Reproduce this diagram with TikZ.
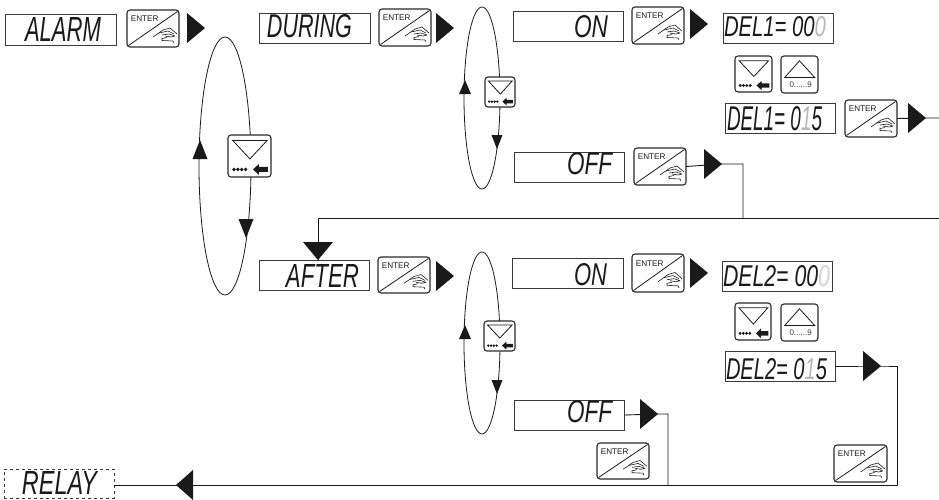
\documentclass[tikz,border=0pt]{standalone}
\usepackage{fontspec}
\usepackage{graphicx}
\setsansfont{Liberation Sans}
\newfontfamily\segfont{Liberation Sans}
\definecolor{ink}{HTML}{1A1A1A}
\definecolor{edge}{HTML}{3A3A3A}
\definecolor{keyedge}{HTML}{2A2A2A}
\definecolor{dimdigit}{HTML}{B8B8B8}
\tikzset{
  dispbox/.style={draw=edge,line width=1pt,fill=white,anchor=north west,inner sep=0pt,outer sep=0pt},
  keybox/.style={draw=keyedge,line width=1.1pt,fill=white,rounded corners=3pt,anchor=north west,inner sep=0pt,outer sep=0pt},
  segtext/.style={inner sep=0pt,outer sep=0pt,text=ink},
  wire/.style={draw=ink,line width=.9pt},
  loopline/.style={draw=ink,line width=.8pt},
  keyline/.style={draw=ink,line width=.8pt},
  handline/.style={draw=ink,line width=.6pt,line join=round},
}
% display box
\newcommand{\dispbox}[6][]{%
  \pgfmathsetmacro{\dw}{#5-#3}\pgfmathsetmacro{\dh}{#6-#4}%
  \node[dispbox,minimum width=\dw pt,minimum height=\dh pt,#1] (#2) at (#3,#4) {};}
% display text, scaled to fit its measured extent
\newcommand{\segtxt}[6]{%
  \pgfmathsetmacro{\tw}{#4-#2}\pgfmathsetmacro{\th}{#5-#3}%
  \pgfmathsetmacro{\tcx}{(#2+#4)/2}\pgfmathsetmacro{\tcy}{(#3+#5)/2}%
  \node[segtext] (#1) at (\tcx,\tcy) {\resizebox{\tw pt}{\th pt}{\segfont\itshape #6}};}
% ENTER key
\newcommand{\enterkey}[5]{%
  \pgfmathsetmacro{\kw}{#4-#2}\pgfmathsetmacro{\kh}{#5-#3}%
  \pgfmathsetmacro{\kx}{\kw/52}\pgfmathsetmacro{\ky}{\kh/37}%
  \node[keybox,minimum width=\kw pt,minimum height=\kh pt] (#1) at (#2,#3) {};
  \begin{scope}[shift={(#2,#3)},xscale=\kx,yscale=\ky]
    \draw[keyline] (1.5,35.5) -- (50.5,1.5);
    \node[anchor=west,inner sep=0pt,text=ink] (#1-label) at (3.6,9) {\sffamily\fontsize{8.2}{9}\selectfont ENTER};
    \draw[handline] (26,27) -- (36,20) -- (43,18) -- (50,24);
    \draw[handline] (32,23) -- (41,21) -- (47,24);
    \draw[handline] (35,25) -- (42,24) -- (48,26) -- (44,27) -- (38,26);
    \draw[handline] (40,27.5) -- (35,28.5) -- (35,30.5) -- (46,31) -- (47,33);
  \end{scope}}
% down key
\newcommand{\downkey}[5]{%
  \pgfmathsetmacro{\kw}{#4-#2}\pgfmathsetmacro{\kh}{#5-#3}%
  \pgfmathsetmacro{\kx}{\kw/100}\pgfmathsetmacro{\ky}{\kh/100}%
  \node[keybox,minimum width=\kw pt,minimum height=\kh pt] (#1) at (#2,#3) {};
  \begin{scope}[shift={(#2,#3)},xscale=\kx,yscale=\ky]
    \draw[keyline,line join=miter] (11,13) -- (91,13) -- (51,57) -- cycle;
    \foreach \dx in {14,23,32,41}{\fill[ink] (\dx,82) ellipse[x radius=4.4,y radius=4.4];}
    \fill[ink] (58,82) -- (72,69) -- (72,76) -- (93,76) -- (93,88) -- (72,88) -- (72,95) -- cycle;
  \end{scope}}
% up key
\newcommand{\upkey}[5]{%
  \pgfmathsetmacro{\kw}{#4-#2}\pgfmathsetmacro{\kh}{#5-#3}%
  \pgfmathsetmacro{\kx}{\kw/100}\pgfmathsetmacro{\ky}{\kh/100}%
  \node[keybox,minimum width=\kw pt,minimum height=\kh pt] (#1) at (#2,#3) {};
  \begin{scope}[shift={(#2,#3)},xscale=\kx,yscale=\ky]
    \draw[keyline,line join=miter] (10,58) -- (91,58) -- (50,13) -- cycle;
    \node[inner sep=0pt,text=edge] (#1-label) at (53,78) {\sffamily\fontsize{8}{9}\selectfont 0......9};
  \end{scope}}
% solid triangles, named at their tip
\newcommand{\triR}[3]{\coordinate (#1) at (#2,#3); \fill[ink] (#1) -- ++(-18,-15) -- ++(0,30) -- cycle;}
\newcommand{\triL}[3]{\coordinate (#1) at (#2,#3); \fill[ink] (#1) -- ++(17,-15) -- ++(0,30) -- cycle;}
\newcommand{\triD}[5]{\coordinate (#1) at (#2,#3); \fill[ink] (#1) -- ++(-#5,-#4) -- ++(2*#5,0) -- cycle;}
\newcommand{\triU}[5]{\coordinate (#1) at (#2,#3); \fill[ink] (#1) -- ++(-#5,#4) -- ++(2*#5,0) -- cycle;}
\begin{document}
\begin{tikzpicture}[x=1pt,y=-1pt]
\useasboundingbox (0,0) rectangle (939,499);
% selection loops
\draw[loopline] (225,166) ellipse[x radius=26,y radius=129];
\draw[loopline] (482,98) ellipse[x radius=18,y radius=91];
\draw[loopline] (482,343) ellipse[x radius=18,y radius=91];
\triU{lu1}{200}{140}{19}{7.5}
\triD{ld1}{246}{238}{19}{7.5}
\triU{lu2}{465}{80}{14}{6}
\triD{ld2}{497}{149}{14}{5.5}
\triU{lu3}{465}{325}{14}{6}
\triD{ld3}{497}{394}{14}{5.5}
% displays
\dispbox{alarm}{5.5}{14}{116}{45}
\segtxt{alarm-t}{25}{17}{101}{41}{ALARM}
\dispbox{during}{259}{13}{370}{43}
\segtxt{during-t}{267}{15}{352}{38}{DURING}
\dispbox{on1}{513}{11}{623}{41}
\segtxt{on1-t}{574}{16}{608}{38}{ON}
\dispbox{off1}{514}{152}{624}{182}
\segtxt{off1-t}{567}{153}{612}{175}{OFF}
\dispbox{del1a}{723}{13}{833}{43}
\segtxt{del1a-t}{724}{17}{826}{37}{DEL1= 00{\color{dimdigit}0}}
\dispbox{del1b}{725}{103}{835}{133}
\segtxt{del1b-t}{727}{107}{822}{131}{DEL1= 0{\color{dimdigit}1}5}
\dispbox{after}{259}{260}{369}{290}
\segtxt{after-t}{286}{264}{359}{287}{AFTER}
\dispbox{on2}{512}{258}{623}{288}
\segtxt{on2-t}{574}{264}{607}{286}{ON}
\dispbox{off2}{514}{400}{624}{430}
\segtxt{off2-t}{567}{401}{612}{423}{OFF}
\dispbox{del2a}{722}{261}{832}{291}
\segtxt{del2a-t}{723}{266}{830}{287}{DEL2= 00{\color{dimdigit!60}0}}
\dispbox{del2b}{725}{351}{835}{381}
\segtxt{del2b-t}{726}{359}{827}{380}{DEL2= 0{\color{dimdigit}1}5}
\dispbox[dashed,dash pattern=on 3pt off 3pt]{relay}{4}{469}{114}{498}
\segtxt{relay-t}{22}{471}{97}{494}{RELAY}
% keys
\enterkey{e1}{127}{10}{179}{47}
\enterkey{e2}{379}{9}{431}{46}
\enterkey{e3}{632}{7}{684}{44}
\enterkey{e4}{845}{100}{897}{137}
\enterkey{e5}{634}{148}{686}{185}
\enterkey{e6}{378}{257}{430}{293}
\enterkey{e7}{632}{254}{684}{292}
\enterkey{e8}{597}{443}{649}{479}
\enterkey{e9}{834}{445}{887}{482}
\downkey{d1}{228}{135}{271}{177}
\downkey{d2}{485}{77}{515}{107}
\downkey{d3}{484}{321}{515}{351}
\downkey{d4}{735}{56}{772}{92}
\upkey{u1}{781}{56}{818}{93}
\downkey{d5}{735}{303}{771}{340}
\upkey{u2}{781}{304}{818}{341}
% junctions and free ends
\coordinate (outa) at (939,118);
\coordinate (outb) at (939,218);
\coordinate (j1) at (743,218);
\coordinate (j2) at (668,485);
\coordinate (j3) at (897,485);
% connectors
\triR{t1}{205}{28}
\triR{t2}{454}{28}
\triR{t3}{708}{24}
\triR{t4}{926}{118}
\triR{t5}{722}{164}
\triR{t7}{454}{276}
\triR{t8}{708}{273}
\triR{t9}{881}{366}
\triR{t10}{658}{414}
\triL{t11}{176}{485}
\triD{t6}{318}{260}{18}{15}
\draw[wire] (e4.east) -- (t4) -- (outa);
\draw[wire] (e5.east) -- (t5) -| (j1);
\draw[wire] (outb) -| (t6);
\draw[wire] (off2.east) -- (t10) -| (j2);
\draw[wire] (del2b.east) -- (t9) -| (j3) -- (relay.east |- j3);
\end{tikzpicture}
\end{document}
